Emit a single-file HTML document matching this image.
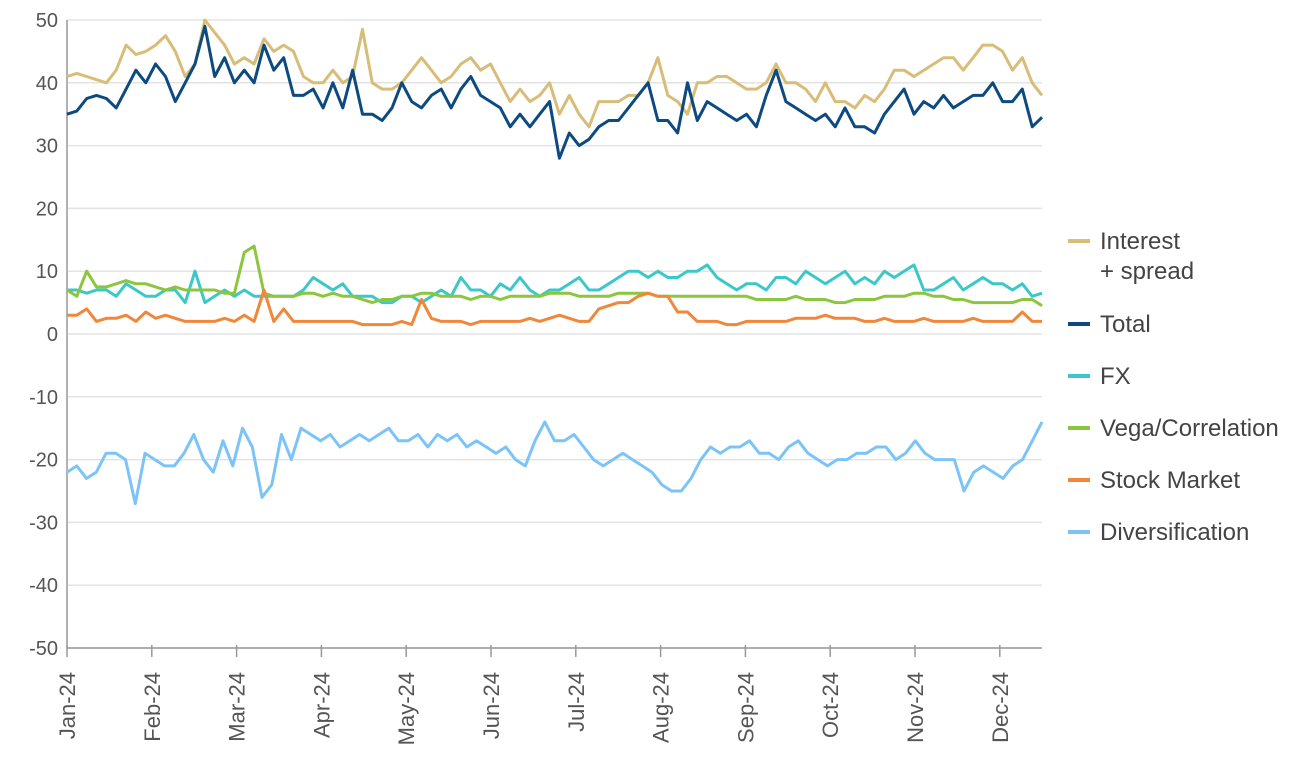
<!DOCTYPE html>
<html><head><meta charset="utf-8"><style>
body{margin:0;background:#fff;font-family:"Liberation Sans",Arial,sans-serif}
svg text{font-family:"Liberation Sans",Arial,sans-serif}
</style></head><body>
<svg id="chart" width="1300" height="760"></svg>
<script>
const months=["Jan-24","Feb-24","Mar-24","Apr-24","May-24","Jun-24","Jul-24","Aug-24","Sep-24","Oct-24","Nov-24","Dec-24"];
const yTicks=[50,40,30,20,10,0,-10,-20,-30,-40,-50];
const total=[35,35.5,37.5,38,37.5,36,39,42,40,43,41,37,40,43,49,41,44,40,42,40,46,42,44,38,38,39,36,40,36,42,35,35,34,36,40,37,36,38,39,36,39,41,38,37,36,33,35,33,35,37,28,32,30,31,33,34,34,36,38,40,34,34,32,40,34,37,36,35,34,35,33,38,42,37,36,35,34,35,33,36,33,33,32,35,37,39,35,37,36,38,36,37,38,38,40,37,37,39,33,34.5];
const interest=[41,41.5,41,40.5,40,42,46,44.5,45,46,47.5,45,41,43,50,48,46,43,44,43,47,45,46,45,41,40,40,42,40,41,48.5,40,39,39,40,42,44,42,40,41,43,44,42,43,40,37,39,37,38,40,35,38,35,33,37,37,37,38,38,40,44,38,37,35,40,40,41,41,40,39,39,40,43,40,40,39,37,40,37,37,36,38,37,39,42,42,41,42,43,44,44,42,44,46,46,45,42,44,40,38];
const fx=[7,7,6.5,7,7,6,8,7,6,6,7,7,5,10,5,6,7,6,7,6,6,6,6,6,7,9,8,7,8,6,6,6,5,5,6,6,5,6,7,6,9,7,7,6,8,7,9,7,6,7,7,8,9,7,7,8,9,10,10,9,10,9,9,10,10,11,9,8,7,8,8,7,9,9,8,10,9,8,9,10,8,9,8,10,9,10,11,7,7,8,9,7,8,9,8,8,7,8,6,6.5];
const vega=[7,6,10,7.5,7.5,8,8.5,8,8,7.5,7,7.5,7,7,7,7,6.5,6.5,13,14,6.5,6,6,6,6.5,6.5,6,6.5,6,6,5.5,5,5.5,5.5,6,6,6.5,6.5,6,6,6,5.5,6,6,5.5,6,6,6,6,6.5,6.5,6.5,6,6,6,6,6.5,6.5,6.5,6.5,6,6,6,6,6,6,6,6,6,6,5.5,5.5,5.5,5.5,6,5.5,5.5,5.5,5,5,5.5,5.5,5.5,6,6,6,6.5,6.5,6,6,5.5,5.5,5,5,5,5,5,5.5,5.5,4.5];
const stock=[3,3,4,2,2.5,2.5,3,2,3.5,2.5,3,2.5,2,2,2,2,2.5,2,3,2,7,2,4,2,2,2,2,2,2,2,1.5,1.5,1.5,1.5,2,1.5,5.5,2.5,2,2,2,1.5,2,2,2,2,2,2.5,2,2.5,3,2.5,2,2,4,4.5,5,5,6,6.5,6,6,3.5,3.5,2,2,2,1.5,1.5,2,2,2,2,2,2.5,2.5,2.5,3,2.5,2.5,2.5,2,2,2.5,2,2,2,2.5,2,2,2,2,2.5,2,2,2,2,3.5,2,2];
const divers=[-22,-21,-23,-22,-19,-19,-20,-27,-19,-20,-21,-21,-19,-16,-20,-22,-17,-21,-15,-18,-26,-24,-16,-20,-15,-16,-17,-16,-18,-17,-16,-17,-16,-15,-17,-17,-16,-18,-16,-17,-16,-18,-17,-18,-19,-18,-20,-21,-17,-14,-17,-17,-16,-18,-20,-21,-20,-19,-20,-21,-22,-24,-25,-25,-23,-20,-18,-19,-18,-18,-17,-19,-19,-20,-18,-17,-19,-20,-21,-20,-20,-19,-19,-18,-18,-20,-19,-17,-19,-20,-20,-20,-25,-22,-21,-22,-23,-21,-20,-17,-14];
const seriesNames=["Interest + spread","Total","FX","Vega/Correlation","Stock Market","Diversification"];

const svg=document.getElementById('chart');
const NS='http://www.w3.org/2000/svg';
const X0=67,X1=1042,Y0=20,Y1=648;
function ys(v){return Y1-(v+50)/100*(Y1-Y0);}
function xs(i,n){return X0+i*(X1-X0)/(n-1);}
function mk(t,a){const e=document.createElementNS(NS,t);for(const k in a)e.setAttribute(k,a[k]);svg.appendChild(e);return e;}

yTicks.forEach(v=>{
  const g=mk('line',{x1:X0,x2:X1,y1:ys(v),y2:ys(v),stroke:'#e3e3e3','stroke-width':1.5});
  
  
  const t=mk('text',{x:58,y:ys(v)+7,'text-anchor':'end','font-size':20,fill:'#555'});
  t.textContent=v;
  
  
});
const ax=mk('line',{x1:X0,x2:X0,y1:Y0,y2:Y1,stroke:'#999','stroke-width':1.5});


const xa=mk('line',{x1:X0,x2:X1,y1:Y1,y2:Y1,stroke:'#999','stroke-width':1.5});


months.forEach((m,i)=>{
  const x=X0+i*84.8;
  const tk=mk('line',{x1:x,x2:x,y1:Y1-3,y2:Y1+9,stroke:'#999','stroke-width':1.5});
  
  
  const t=mk('text',{x:0,y:0,'text-anchor':'end','font-size':22,fill:'#555',transform:`translate(${x+8},${Y1+24}) rotate(-90)`});
  t.textContent=m;
  
  
});
const order=[[interest,'#d8bd78','interest-spread-line'],[total,'#0d4a80','total-line'],[fx,'#3cc8c8','fx-line'],[vega,'#8cc63f','vega-correlation-line'],[stock,'#f0873a','stock-market-line'],[divers,'#7cc4f8','diversification-line']];
order.forEach(([d,c,n])=>{
  const p=d.map((v,i)=>(i?'L':'M')+xs(i,d.length).toFixed(1)+','+ys(v).toFixed(1)).join('');
  const e=mk('path',{d:p,fill:'none',stroke:c,'stroke-width':3,'stroke-linejoin':'round'});
  
  
});
const ly=[241,324,376,428,480,532];
order.forEach(([d,c,n],i)=>{
  const l=mk('line',{x1:1068,x2:1090,y1:ly[i],y2:ly[i],stroke:c,'stroke-width':4});
  
  
  const t=mk('text',{x:1100,y:ly[i]+8,'font-size':24,fill:'#444'});
  
  
  if(i===0){t.textContent='Interest';const t2=mk('text',{x:1100,y:ly[i]+38,'font-size':24,fill:'#444'});t2.textContent='+ spread';
    
    }
  else t.textContent=seriesNames[i];
});
</script>
</body></html>
